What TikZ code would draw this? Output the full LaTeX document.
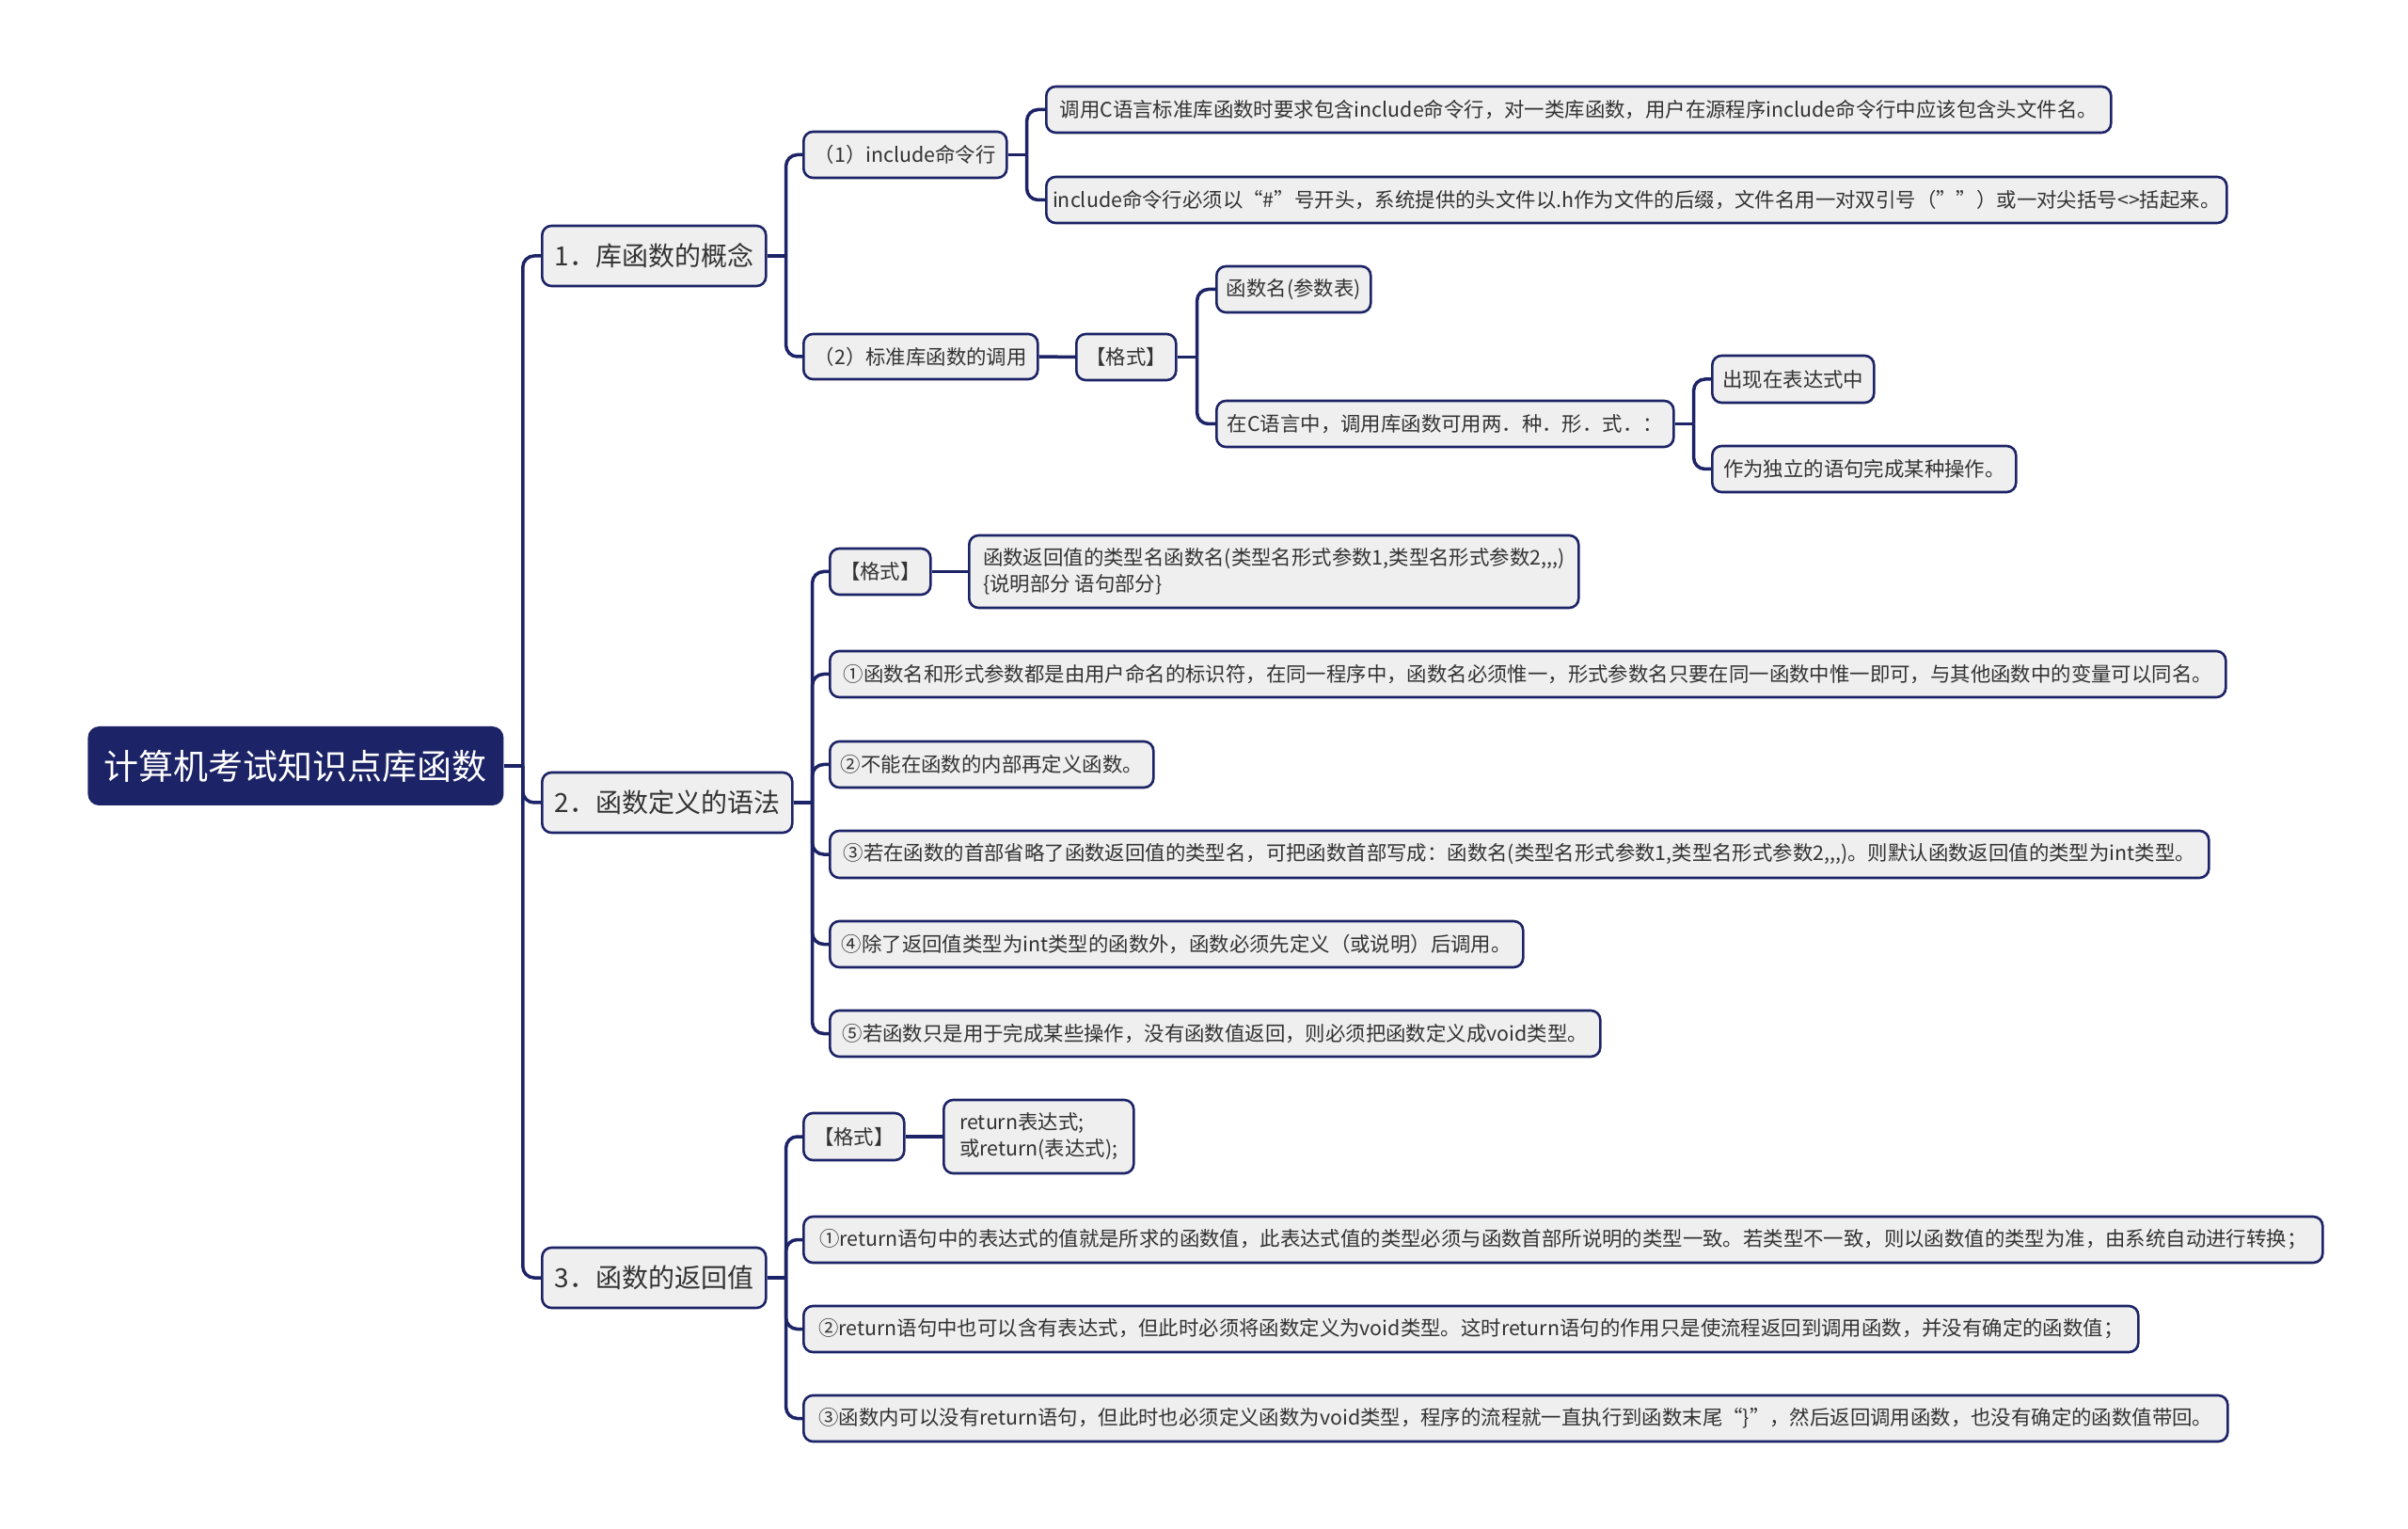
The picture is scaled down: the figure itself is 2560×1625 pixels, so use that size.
\documentclass[tikz,border=0pt]{standalone}
\usepackage{fontspec}
\setmainfont{Noto Sans CJK SC}
\usetikzlibrary{calc}
\definecolor{navy}{HTML}{1C2366}
\definecolor{nodefill}{HTML}{EFEFEF}
\definecolor{txt}{HTML}{333333}
\begin{document}
\begin{tikzpicture}[x=0.5pt,y=-0.5pt,
  conn/.style={draw=navy, line width=1.75pt, rounded corners=6pt},
  wh/.style 2 args={minimum width=#1*0.5pt, minimum height=#2*0.5pt},
  leaf/.style={draw=navy, line width=1.3pt, fill=nodefill, rounded corners=5pt, anchor=west,
    inner xsep=5pt, inner ysep=0pt, text=txt, font=\fontsize{10.7pt}{14pt}\selectfont, align=left},
  lvlone/.style={leaf, inner xsep=4pt, font=\fontsize{14pt}{18pt}\selectfont},
  rootbox/.style={fill=navy, rounded corners=6pt, anchor=west, text=white,
    font=\fontsize{18.5pt}{22pt}\selectfont, inner sep=0pt},
]
\fill[white] (0,0) rectangle (2560,1625);
\useasboundingbox (0,0) rectangle (2560,1625);

% root
\node[rootbox, wh={442}{84}] (root) at (93,814) {计算机考试知识点库函数};

% level 1
\node[lvlone, wh={238}{64}] (s1) at (575,272) {1．库函数的概念};
\node[lvlone, wh={266}{64}] (s2) at (575,853) {2．函数定义的语法};
\node[lvlone, wh={238}{64}] (s3) at (575,1358) {3．函数的返回值};

% section 1
\node[leaf, wh={216}{49}] (a1) at (853,164.5) {（1）include命令行};
\node[leaf, wh={249}{48}] (a2) at (853,379) {（2）标准库函数的调用};
\node[leaf, wh={1132}{49}] (a1a) at (1111,116.5) {调用C语言标准库函数时要求包含include命令行，对一类库函数，用户在源程序include命令行中应该包含头文件名。};
\node[leaf, wh={1255}{49}, inner xsep=2.5pt] (a1b) at (1111,212.5) {include命令行必须以“\#”号开头，系统提供的头文件以.h作为文件的后缀，文件名用一对双引号（\char34\char34）或一对尖括号<>括起来。};
\node[leaf, wh={106}{49}] (f1) at (1143,379.5) {【格式】};
\node[leaf, wh={164}{49}] (f1a) at (1292,307.5) {函数名(参数表)};
\node[leaf, wh={486}{49}] (f1b) at (1292,450.5) {在C语言中，调用库函数可用两．种．形．式．：};
\node[leaf, wh={172}{50}] (f1b1) at (1819,403) {出现在表达式中};
\node[leaf, wh={323}{49}] (f1b2) at (1819,498.5) {作为独立的语句完成某种操作。};

% section 2
\node[leaf, wh={107}{49}] (b0) at (881,607.5) {【格式】};
\node[leaf, wh={648}{77}] (b0a) at (1029,607.5) {函数返回值的类型名函数名(类型名形式参数1{,}类型名形式参数2{,}{,}{,})\\\{说明部分 语句部分\}};
\node[leaf, wh={1484}{49}] (b1) at (881,716.5) {①函数名和形式参数都是由用户命名的标识符，在同一程序中，函数名必须惟一，形式参数名只要在同一函数中惟一即可，与其他函数中的变量可以同名。};
\node[leaf, wh={344}{49}] (b2) at (881,812.5) {②不能在函数的内部再定义函数。};
\node[leaf, wh={1466}{50}] (b3) at (881,908) {③若在函数的首部省略了函数返回值的类型名，可把函数首部写成：函数名(类型名形式参数1{,}类型名形式参数2{,}{,}{,})。则默认函数返回值的类型为int类型。};
\node[leaf, wh={737}{49}] (b4) at (881,1003.5) {④除了返回值类型为int类型的函数外，函数必须先定义（或说明）后调用。};
\node[leaf, wh={819}{49}] (b5) at (881,1098.5) {⑤若函数只是用于完成某些操作，没有函数值返回，则必须把函数定义成void类型。};

% section 3
\node[leaf, wh={107}{50}] (c0) at (853,1208) {【格式】};
\node[leaf, wh={202}{78}] (c0a) at (1002,1208) {return表达式;\\或return(表达式);};
\node[leaf, wh={1615}{49}] (c1) at (853,1317.5) {①return语句中的表达式的值就是所求的函数值，此表达式值的类型必须与函数首部所说明的类型一致。若类型不一致，则以函数值的类型为准，由系统自动进行转换；};
\node[leaf, wh={1419}{49}] (c2) at (853,1412.5) {②return语句中也可以含有表达式，但此时必须将函数定义为void类型。这时return语句的作用只是使流程返回到调用函数，并没有确定的函数值；};
\node[leaf, wh={1514}{49}] (c3) at (853,1507.5) {③函数内可以没有return语句，但此时也必须定义函数为void类型，程序的流程就一直执行到函数末尾“\}”，然后返回调用函数，也没有确定的函数值带回。};

% connectors
\draw[conn] (root.east) -- ++(20,0) coordinate (jr);
\foreach \c in {s1,s2,s3} \draw[conn] (jr) |- (\c.west);

\draw[conn] (s1.east) -- ++(20,0) coordinate (j1);
\foreach \c in {a1,a2} \draw[conn] (j1) |- (\c.west);

\draw[conn] (a1.east) -- ++(20,0) coordinate (ja1);
\foreach \c in {a1a,a1b} \draw[conn] (ja1) |- (\c.west);

\draw[conn] (a2.east) -- (f1.west);
\draw[conn] (f1.east) -- ++(21,0) coordinate (jf1);
\foreach \c in {f1a,f1b} \draw[conn] (jf1) |- (\c.west);

\draw[conn] (f1b.east) -- ++(20,0) coordinate (jf1b);
\foreach \c in {f1b1,f1b2} \draw[conn] (jf1b) |- (\c.west);

\draw[conn] (s2.east) -- ++(20,0) coordinate (j2);
\foreach \c in {b0,b1,b2,b3,b4,b5} \draw[conn] (j2) |- (\c.west);
\draw[conn] (b0.east) -- (b0a.west);

\draw[conn] (s3.east) -- ++(20,0) coordinate (j3);
\foreach \c in {c0,c1,c2,c3} \draw[conn] (j3) |- (\c.west);
\draw[conn] (c0.east) -- (c0a.west);
\end{tikzpicture}
\end{document}
